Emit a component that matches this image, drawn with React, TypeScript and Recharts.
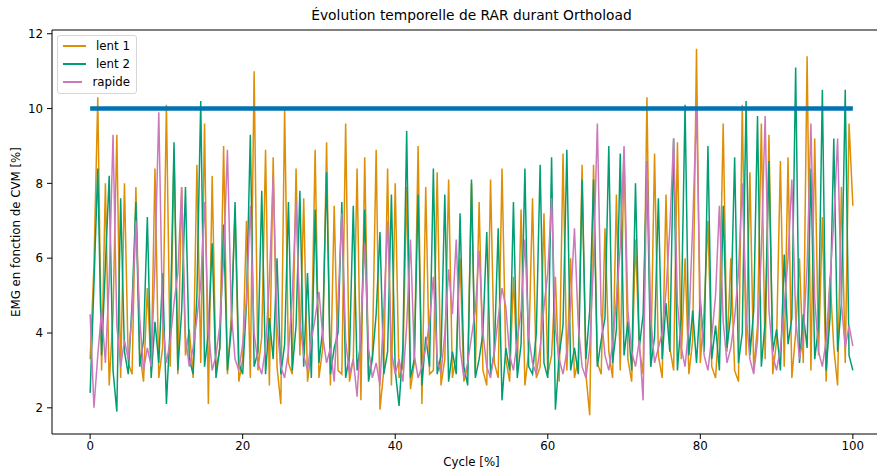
import { LineChart, Line, XAxis, YAxis, Legend, ReferenceLine } from "recharts";

// cycle sampled every 0.5 %
const STEP = 0.5;

const LENT1 = [
  3.3, 5.8, 10.3, 3.0, 8.0, 2.6, 4.5, 9.3, 2.8, 8.0,
  3.2, 2.9, 7.9, 3.5, 2.7, 5.2, 3.0, 8.4, 2.8, 3.6,
  10.1, 3.1, 8.9, 2.9, 7.9, 3.4, 4.1, 2.8, 8.5, 3.2,
  9.6, 2.1, 8.2, 3.0, 3.6, 9.0, 2.9, 4.4, 7.2, 2.7,
  3.3, 7.0, 2.8, 11.0, 3.0, 3.9, 8.9, 2.6, 8.7, 3.1,
  2.1, 10.0, 3.2, 2.9, 8.4, 3.4, 7.6, 2.7, 3.5, 8.9,
  2.8, 3.6, 9.1, 2.6, 7.4, 3.0, 2.9, 9.6, 2.7, 3.3,
  8.4, 2.2, 8.7, 2.9, 3.4, 8.9, 1.95, 3.0, 8.4, 2.6,
  8.0, 2.8, 3.1, 7.9, 2.5, 3.2, 9.0, 2.1, 7.9, 2.9,
  3.0, 8.3, 2.6, 3.3, 8.1, 2.8, 3.4, 6.0, 2.7, 3.1,
  8.0, 2.9, 7.5, 3.0, 2.6, 8.1, 3.2, 2.8, 8.4, 3.3,
  2.7, 5.5, 3.0, 7.3, 2.6, 3.5, 7.6, 2.8, 3.1, 7.2,
  2.9, 3.4, 5.5, 2.7, 8.8, 3.0, 6.0, 2.8, 3.3, 8.5,
  2.9, 1.8, 8.5, 3.2, 2.9, 6.8, 3.5, 2.8, 7.7, 3.0,
  8.9, 3.3, 2.7, 6.5, 3.6, 2.9, 10.3, 3.1, 8.8, 3.4,
  2.8, 7.7, 3.6, 3.0, 9.1, 3.3, 6.0, 2.9, 3.8, 11.6,
  3.2, 4.6, 7.0, 3.1, 2.8, 4.4, 9.6, 3.5, 6.0, 3.0,
  2.7, 10.1, 3.4, 8.3, 3.0, 4.2, 9.6, 3.3, 9.3, 2.9,
  3.8, 8.6, 3.1, 8.7, 2.8, 4.0, 6.0, 3.2, 11.4, 3.0,
  9.2, 3.4, 7.1, 2.7, 5.5, 3.6, 2.6, 7.9, 3.2, 9.6,
  7.4,
];

const LENT2 = [
  2.4, 5.3, 8.4, 3.4, 5.8, 8.2, 3.0, 1.9, 7.6, 3.5,
  2.9, 4.8, 7.5, 3.1, 3.8, 7.1, 2.8, 4.3, 3.2, 5.6,
  2.1, 4.2, 9.1, 3.0, 4.6, 7.9, 3.3, 2.9, 5.0, 10.2,
  3.1, 4.0, 6.4, 2.8, 3.6, 6.9, 3.0, 4.1, 7.5, 3.2,
  2.9, 4.8, 9.3, 3.1, 3.5, 7.8, 2.9, 4.4, 3.3, 6.0,
  2.9, 3.7, 7.5, 3.0, 4.2, 7.8, 3.1, 5.6, 2.8, 7.3,
  3.2, 4.1, 8.3, 2.9, 3.6, 4.0, 7.5, 2.8, 3.4, 7.4,
  3.0, 3.8, 7.3, 2.7, 3.3, 4.5, 6.7, 2.9, 3.5, 7.7,
  3.0, 2.05, 3.6, 9.4, 2.8, 3.3, 7.7, 2.6, 3.9, 3.1,
  8.4, 2.9, 3.4, 7.7, 2.7, 3.5, 2.9, 7.2, 3.1, 2.6,
  8.1, 2.8, 3.3, 4.0, 6.7, 2.9, 3.5, 6.8, 2.2, 3.6,
  3.0, 7.5, 2.8, 3.7, 8.4, 3.1, 2.9, 4.0, 8.5, 3.2,
  2.8, 8.7, 1.95, 3.4, 4.2, 8.9, 3.0, 3.6, 2.9, 8.1,
  3.3, 4.6, 8.1, 3.1, 3.8, 4.4, 9.0, 3.2, 4.1, 8.8,
  3.4, 4.3, 3.0, 8.0, 3.6, 4.5, 8.6, 3.1, 3.9, 7.6,
  3.3, 4.8, 3.5, 9.2, 3.0, 4.4, 10.1, 3.4, 4.6, 3.2,
  4.9, 3.5, 9.0, 3.3, 4.2, 3.0, 7.4, 3.6, 4.5, 8.7,
  3.2, 4.0, 10.2, 3.4, 4.6, 9.8, 3.1, 4.3, 8.6, 3.5,
  4.1, 3.0, 6.1, 3.7, 4.4, 11.1, 3.2, 4.5, 3.6, 8.4,
  3.3, 4.2, 10.5, 3.0, 4.4, 9.2, 3.5, 4.8, 10.5, 3.4,
  3.0,
];

const RAPIDE = [
  4.5, 2.0, 3.4, 4.6, 3.2, 5.4, 9.3, 4.2, 3.1, 3.8,
  3.3, 4.5, 7.0, 4.4, 3.0, 3.6, 3.1, 5.8, 9.9, 4.3,
  3.2, 3.8, 4.8, 5.6, 7.9, 3.9, 3.1, 3.6, 4.4, 5.3,
  7.5, 4.1, 3.0, 3.4, 4.2, 6.0, 8.9, 4.6, 3.3, 3.0,
  3.7, 4.9, 7.4, 4.0, 3.2, 2.9, 3.6, 5.4, 8.2, 4.2,
  3.1, 2.8, 3.5, 5.0, 7.5, 4.3, 3.4, 3.0, 3.8, 4.4,
  5.1, 3.9, 3.2, 3.6, 2.7, 4.8, 7.2, 3.8, 2.9, 3.3,
  2.3, 4.1, 6.4, 3.6, 2.8, 3.2, 2.6, 4.6, 7.0, 3.5,
  2.9, 3.3, 2.7, 4.2, 6.5, 3.4, 2.8, 3.1, 3.6, 4.3,
  5.5, 3.3, 2.9, 4.0, 5.7, 4.5, 6.5, 3.6, 2.8, 3.2,
  3.9, 4.6, 6.2, 4.0, 3.1, 2.8, 3.5, 4.4, 5.2, 4.7,
  3.4, 3.0, 3.8, 4.6, 6.5, 3.9, 3.2, 2.9, 3.6, 4.7,
  5.6, 7.6, 4.1, 3.3, 2.9, 3.5, 4.8, 6.8, 4.2, 3.1,
  2.8, 3.6, 5.9, 9.6, 4.5, 3.4, 3.0, 3.7, 4.9, 6.3,
  9.0, 4.6, 3.5, 3.1, 3.8, 2.2, 8.6, 4.4, 3.2, 3.6,
  4.0, 5.1, 6.8, 9.2, 4.8, 3.6, 3.1, 4.2, 6.9, 10.0,
  4.7, 3.4, 3.0, 3.9, 5.0, 7.4, 4.3, 3.2, 3.6, 4.4,
  5.6, 8.0, 4.5, 3.3, 2.9, 3.8, 6.2, 9.8, 4.6, 3.4,
  3.0, 3.6, 4.7, 6.0, 8.1, 4.4, 3.3, 3.9, 5.8, 9.6,
  4.9, 3.5, 3.1, 3.8, 5.4, 7.0, 9.2, 4.8, 3.6, 4.2,
  3.65,
];

const SERIES = [
  { key: "lent1", name: "lent 1", color: "#de8f05" },
  { key: "lent2", name: "lent 2", color: "#029e73" },
  { key: "rapide", name: "rapide", color: "#cc78bc" },
];

const THRESHOLD = 10;
const THRESHOLD_START = 0;
const THRESHOLD_END = 100;

const X_TICKS = [0, 20, 40, 60, 80, 100];
const Y_TICKS = [2, 4, 6, 8, 10, 12];
const Y_DOMAIN = [1.3, 12.1];

const rows = LENT1.map((v, i) => ({
  x: i * STEP,
  lent1: v,
  lent2: LENT2[i],
  rapide: RAPIDE[i],
}));

const FONT = '"DejaVu Sans", sans-serif';
const tickStyle = { fontSize: 11.8, fill: "#000", fontFamily: FONT };

function LegendBox() {
  return (
    <div
      style={{
        border: "1px solid #d6d6d6",
        borderRadius: 3,
        background: "rgba(255,255,255,0.8)",
        padding: "1px 6px 2px 5px",
        fontFamily: FONT,
        fontSize: 11.8,
        width: 67,
        boxSizing: "content-box",
      }}
    >
      {SERIES.map((s) => (
        <div key={s.key} style={{ display: "flex", alignItems: "center", height: 18 }}>
          <span
            style={{ display: "inline-block", width: 23, height: 0, borderTop: `2px solid ${s.color}`, marginRight: 10 }}
          />
          <span>{s.name}</span>
        </div>
      ))}
    </div>
  );
}

export default function App() {
  return (
    <div
      style={{
        position: "absolute",
        left: 0,
        top: 0,
        width: 877,
        height: 472,
        background: "#fff",
        overflow: "hidden",
        fontFamily: FONT,
      }}
    >
      <LineChart width={877} height={472} data={rows} margin={{ top: 30, right: -14, bottom: 0, left: 0 }}>
        <XAxis
          type="number"
          dataKey="x"
          domain={[-5, 105]}
          ticks={X_TICKS}
          height={38}
          tick={tickStyle}
          tickSize={5}
          tickMargin={3}
          axisLine={{ stroke: "#000" }}
          tickLine={{ stroke: "#000" }}
        />
        <YAxis
          type="number"
          domain={Y_DOMAIN}
          ticks={Y_TICKS}
          width={52}
          tick={tickStyle}
          tickSize={5}
          tickMargin={4}
          axisLine={{ stroke: "#000" }}
          tickLine={{ stroke: "#000" }}
        />
        <Legend
          layout="vertical"
          align="center"
          verticalAlign="middle"
          content={() => <LegendBox />}
          wrapperStyle={{ left: 57, top: 35, width: 82, height: 60 }}
        />
        {SERIES.map((s) => (
          <Line
            key={s.key}
            type="linear"
            dataKey={s.key}
            name={s.name}
            stroke={s.color}
            strokeWidth={1.5}
            dot={false}
            activeDot={false}
            isAnimationActive={false}
          />
        ))}
        <ReferenceLine
          segment={[
            { x: THRESHOLD_START, y: THRESHOLD },
            { x: THRESHOLD_END, y: THRESHOLD },
          ]}
          stroke="#0173b2"
          strokeWidth={4.5}
        />
        {/* top spine */}
        <ReferenceLine y={Y_DOMAIN[1]} stroke="#000" strokeWidth={1} />
      </LineChart>
      <div
        style={{
          position: "absolute",
          left: 0,
          width: 943,
          top: 7,
          textAlign: "center",
          fontSize: 13.8,
        }}
      >
        Évolution temporelle de RAR durant Orthoload
      </div>
      <div
        style={{
          position: "absolute",
          left: 0,
          width: 943,
          top: 455,
          textAlign: "center",
          fontSize: 11.8,
        }}
      >
        Cycle [%]
      </div>
      <div
        style={{
          position: "absolute",
          left: 16,
          top: 232,
          transform: "translate(-50%, -50%) rotate(-90deg)",
          whiteSpace: "nowrap",
          fontSize: 11.8,
        }}
      >
        EMG en fonction de CVM [%]
      </div>
    </div>
  );
}
